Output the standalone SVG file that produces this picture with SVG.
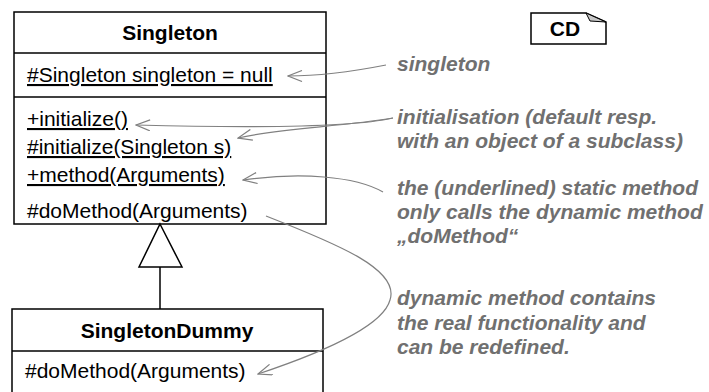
<svg xmlns="http://www.w3.org/2000/svg" width="709" height="392" viewBox="0 0 709 392">
<style>
.box{fill:#fff;stroke:#000;stroke-width:1.5}
.sep{stroke:#000;stroke-width:1.5}
.t{font-family:"Liberation Sans",Arial,sans-serif;font-size:21px;fill:#000}
.b{font-weight:bold}
.u{text-decoration:underline}
.note{font-family:"Liberation Sans",Arial,sans-serif;font-size:21px;font-weight:bold;font-style:italic;fill:#707070}
.con{fill:none;stroke:#808080;stroke-width:1.2}
</style>
<defs>
<marker id="open" viewBox="0 0 16 12" refX="15" refY="6" markerWidth="16" markerHeight="12" markerUnits="userSpaceOnUse" orient="auto">
<path d="M1,0.5 L15,6 L1,11.5" fill="none" stroke="#808080" stroke-width="1.2"/>
</marker>
</defs>
<rect width="709" height="392" fill="#fff"/>
<g id="Singleton">
<rect class="box" x="14" y="12" width="312" height="212"/>
<line class="sep" x1="14" y1="53" x2="326" y2="53"/>
<line class="sep" x1="14" y1="97" x2="326" y2="97"/>
<text class="t b" x="170" y="40" text-anchor="middle">Singleton</text>
<text class="t u" x="27" y="82">#Singleton singleton = null</text>
<text class="t u" x="27" y="126">+initialize()</text>
<text class="t u" x="27" y="154">#initialize(Singleton s)</text>
<text class="t u" x="27" y="182">+method(Arguments)</text>
<text class="t" x="27" y="218">#doMethod(Arguments)</text>
</g>
<g id="SingletonDummy">
<rect class="box" x="12" y="309" width="311" height="100"/>
<line class="sep" x1="12" y1="351" x2="323" y2="351"/>
<text class="t b" x="167" y="338" text-anchor="middle">SingletonDummy</text>
<text class="t" x="25" y="378">#doMethod(Arguments)</text>
</g>
<g id="CD">
<path d="M531,13 L586,13 L606,22 L606,44 L531,44 Z" fill="#fff" stroke="#000" stroke-width="1.5"/>
<path d="M586,13 L590,21 L606,22 Z" fill="#c8c8c8" stroke="#000" stroke-width="1"/>
<text class="t b" x="565" y="36" text-anchor="middle">CD</text>
</g>
<g id="notes">
<text class="note" x="397" y="71">singleton</text>
<text class="note" x="397" y="124">initialisation (default resp.</text>
<text class="note" x="397" y="148">with an object of a subclass)</text>
<text class="note" x="397" y="195">the (underlined) static method</text>
<text class="note" x="397" y="219">only calls the dynamic method</text>
<text class="note" x="397" y="243">„doMethod“</text>
<text class="note" x="397" y="305">dynamic method contains</text>
<text class="note" x="397" y="330">the real functionality and</text>
<text class="note" x="397" y="354">can be redefined.</text>
</g>
<g id="connectors">
<path d="M160,224 L182,267 L139,267 Z" fill="#fff" stroke="#000" stroke-width="1.5"/>
<line x1="160" y1="267" x2="160" y2="309" stroke="#000" stroke-width="1.5"/>
<path class="con" d="M386,65 Q330,76 288,76" marker-end="url(#open)"/>
<path class="con" d="M393,118 C350,128 250,128 136,125" marker-end="url(#open)"/>
<path class="con" d="M393,118 C340,127 280,128 238,138" marker-end="url(#open)"/>
<path class="con" d="M383,192 C355,176 300,172 243,180" marker-end="url(#open)"/>
<path class="con" d="M266,216 C340,245 400,270 390,300 C382,330 300,360 258,374" marker-end="url(#open)"/>
</g>
</svg>
